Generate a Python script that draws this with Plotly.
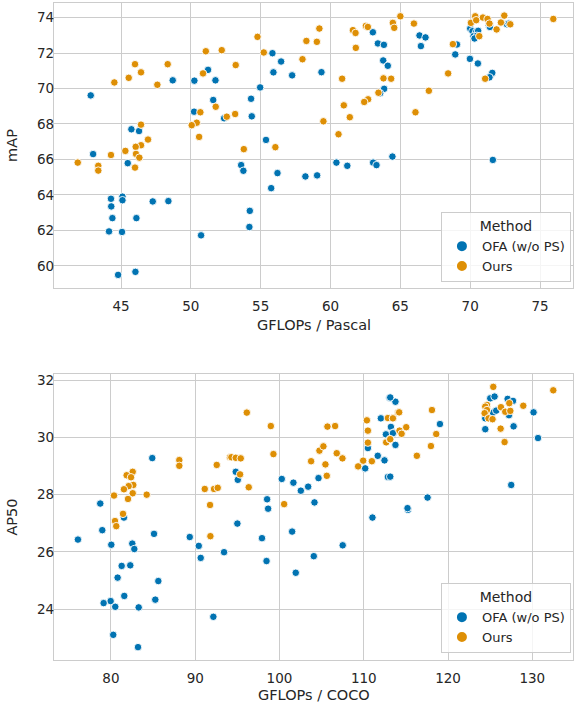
import plotly.graph_objects as go

# ---------------- Data: top panel (Pascal) ----------------
pascal_ofa_x = [42.83, 43.0, 45.74, 46.29, 48.70, 50.25, 51.23, 51.76, 51.6, 50.23, 52.38,
                45.48, 44.28, 45.1, 45.1, 44.3, 44.38, 46.1, 47.27, 48.39, 44.14, 45.07, 50.73,
                44.79, 46.03,
                63.03, 63.39, 63.82, 63.77, 64.1, 63.84, 63.55, 64.43,
                55.84, 56.46, 55.91, 57.25, 59.35, 54.96, 54.31, 54.36, 55.38,
                53.6, 53.76, 56.2, 55.75, 58.2, 59.04, 60.42, 61.2, 63.05, 63.29, 54.22, 54.19,
                66.37, 66.8, 66.47, 69.05, 68.93, 69.98, 70.55, 71.58, 71.38, 71.62,
                70.0, 70.16, 70.43, 70.57, 70.24, 70.48, 70.31, 71.34, 71.41, 72.63, 72.77]
pascal_ofa_y = [69.61, 66.3, 67.70, 67.6, 70.46, 70.44, 71.05, 70.46, 69.35, 68.69, 68.32,
                65.79, 63.78, 63.9, 63.7, 63.35, 62.69, 62.69, 63.63, 63.65, 61.94, 61.91, 61.72,
                59.49, 59.66,
                73.17, 72.54, 72.46, 71.58, 71.28, 69.98, 69.73, 66.16,
                71.99, 71.52, 70.91, 70.74, 70.92, 70.06, 69.42, 68.43, 67.1,
                65.68, 65.36, 65.23, 64.38, 65.04, 65.1, 65.82, 65.64, 65.82, 65.68, 63.1, 62.19,
                72.99, 72.88, 72.39, 72.48, 71.92, 71.67, 71.41, 70.88, 70.63, 65.97,
                73.38, 73.23, 73.19, 73.25, 72.95, 72.97, 72.82, 73.55, 73.47, 73.62, 73.66]

pascal_ours_x = [51.07, 52.21, 46.0, 46.43, 45.55, 44.52, 48.34, 47.6, 50.87, 50.68, 51.78,
                 52.57, 50.42, 50.06, 50.59, 46.43, 46.93, 46.43, 46.05, 45.31, 46.07, 44.28,
                 46.31, 41.9, 43.37, 43.37, 46.0,
                 59.2, 58.27, 59.02, 54.77, 55.22, 53.21, 57.99, 53.17, 59.49, 53.79, 56.05,
                 61.6, 61.79, 62.53, 62.67, 64.46, 64.56, 65.0, 61.81, 60.83, 63.79, 64.34,
                 63.43, 62.69, 62.41, 60.95, 61.38, 60.57,
                 65.97, 68.76, 68.42, 67.04, 66.08, 71.07, 75.95,
                 70.36, 70.05, 70.43, 70.91, 71.24, 71.38, 70.65, 71.89, 72.2, 72.44, 72.87]
pascal_ours_y = [72.1, 72.16, 71.37, 70.91, 70.6, 70.34, 71.37, 70.21, 70.85, 68.66, 68.97,
                 68.41, 68.07, 67.93, 67.27, 67.96, 67.12, 66.8, 66.71, 66.48, 66.31, 66.25,
                 66.1, 65.82, 65.64, 65.37, 65.54,
                 73.38, 72.68, 72.63, 72.91, 72.03, 71.32, 71.65, 68.56, 68.15, 66.58, 66.69,
                 73.29, 73.13, 73.53, 73.47, 73.7, 73.42, 74.07, 72.29, 70.55, 70.57, 70.55,
                 69.76, 69.39, 69.24, 69.05, 68.38, 67.42,
                 73.66, 72.5, 70.85, 69.87, 68.66, 70.55, 73.92,
                 74.07, 73.7, 73.85, 74.0, 73.92, 73.66, 72.95, 73.33, 73.72, 74.11, 73.62]

# ---------------- Data: bottom panel (COCO) ----------------
coco_ofa_x = [84.9, 78.73, 81.54, 78.97, 76.08, 80.04, 82.53, 82.77, 85.11, 89.35, 90.42,
              90.65, 93.42, 81.27, 82.29, 80.79, 85.62, 81.58, 79.96, 79.13, 80.51, 83.29,
              85.26, 92.15, 80.27, 83.21,
              94.81, 95.05, 100.27, 101.65, 102.53, 103.4, 104.63, 98.53, 98.65, 104.15,
              95.0, 111.03, 110.17, 110.49, 111.66, 112.46, 112.86, 112.03, 113.06, 113.76,
              113.22, 112.63, 113.52, 113.76, 97.92, 98.46, 101.5, 101.93, 104.07, 107.5,
              115.24, 113.14, 113.46, 119.04, 113.14, 117.57, 115.19,
              125.01, 125.52, 127.07, 127.71, 127.23, 125.33, 125.72, 124.42, 124.42,
              127.78, 130.15, 130.68, 127.5]
coco_ofa_y = [29.28, 27.69, 27.2, 26.76, 26.43, 26.25, 26.29, 26.1, 26.63, 26.52, 26.21,
              25.79, 25.99, 25.51, 25.53, 25.1, 24.98, 24.46, 24.28, 24.21, 24.08, 24.06,
              24.33, 23.73, 23.1, 22.67,
              28.8, 28.52, 28.55, 28.42, 28.14, 28.28, 28.58, 27.84, 27.51, 27.73,
              26.99, 27.2, 28.92, 29.63, 29.36, 29.2, 28.62, 30.67, 31.39, 31.25,
              30.37, 30.11, 30.17, 29.74, 26.48, 25.68, 26.71, 25.27, 25.85, 26.23,
              27.47, 31.4, 30.15, 30.47, 28.63, 27.9, 27.53,
              31.37, 31.43, 31.35, 31.28, 30.78, 30.87, 30.94, 30.67, 30.29,
              30.39, 30.88, 29.98, 28.34]

coco_ours_x = [88.11, 88.11, 92.55, 94.13, 82.58, 81.86, 82.38, 82.65, 82.1, 81.54, 82.58,
               84.24, 80.36, 82.02, 81.43, 80.48, 80.63, 91.13, 92.23, 92.67, 91.76, 91.8,
               96.12, 98.97, 99.28, 94.29, 94.81, 95.4, 95.32, 96.35, 100.55, 105.69, 106.6,
               104.74, 105.21, 103.75, 105.45, 105.61, 106.79, 107.47, 109.33, 109.93,
               110.96, 110.37, 110.49, 110.49, 112.86, 113.49, 114.09, 114.24, 112.66, 113.1,
               118.09, 118.6, 117.97, 116.3, 114.2, 113.46, 115.04, 114.49, 113.14,
               125.37, 132.49, 128.93, 124.62, 124.42, 124.62, 124.34, 124.81, 125.28,
               126.28, 126.79, 127.27, 127.39, 126.24, 126.71]
coco_ours_y = [29.21, 29.01, 29.04, 29.31, 28.8, 28.68, 28.61, 28.34, 28.3, 28.19, 28.05,
               28.0, 27.97, 27.85, 27.33, 27.08, 26.9, 28.2, 28.2, 28.24, 27.64, 26.55,
               30.87, 30.4, 29.42, 29.31, 29.29, 29.27, 28.71, 28.26, 27.67, 30.38, 30.4,
               29.54, 29.69, 29.17, 29.06, 28.66, 29.45, 29.27, 28.99, 29.19,
               29.17, 30.6, 30.24, 29.82, 30.68, 30.67, 30.87, 30.24, 29.83, 29.94,
               30.96, 30.12, 29.7, 29.36, 30.88, 30.67, 30.36, 30.13, 29.94,
               31.77, 31.65, 31.11, 31.14, 31.08, 30.96, 30.85, 30.67, 30.64,
               31.06, 30.9, 31.2, 30.93, 30.31, 29.84]

method_names = ["OFA (w/o PS)", "Ours"]
colors = ["#0173b2", "#de8f05"]
x_titles = ["GFLOPs / Pascal", "GFLOPs / COCO"]
y_titles = ["mAP", "AP50"]

FONT = "DejaVu Sans"
TXT = "#262626"
GRID = "#cccccc"

fig = go.Figure()

def add(x, y, name, color, xa, ya, legend, show):
    fig.add_trace(go.Scatter(
        x=x, y=y, mode="markers", name=name, xaxis=xa, yaxis=ya,
        legend=legend, showlegend=show,
        marker=dict(color=color, size=7.5, line=dict(color="white", width=0.9)),
    ))

add(pascal_ofa_x, pascal_ofa_y, method_names[0], colors[0], "x", "y", "legend", True)
add(pascal_ours_x, pascal_ours_y, method_names[1], colors[1], "x", "y", "legend", True)
add(coco_ofa_x, coco_ofa_y, method_names[0], colors[0], "x2", "y2", "legend2", True)
add(coco_ours_x, coco_ours_y, method_names[1], colors[1], "x2", "y2", "legend2", True)

ax_common = dict(showgrid=True, gridcolor=GRID, gridwidth=1, showline=True, mirror=True,
                 linecolor=GRID, linewidth=1.3, zeroline=False, ticks="", ticklen=0,
                 automargin=False,
                 tickfont=dict(size=13.5, color=TXT, family=FONT))

H = 707
top_px, bot_px = 3, 47
plot_h = H - top_px - bot_px
def py(pix):  # pixel from top -> paper y
    return (H - bot_px - pix) / plot_h

legend_common = dict(xanchor="right", yanchor="bottom",
                     bgcolor="rgba(255,255,255,0.8)", bordercolor=GRID, borderwidth=1,
                     font=dict(size=13, color=TXT, family=FONT),
                     title=dict(text="Method", side="top center", font=dict(size=14, color=TXT)),
                     itemsizing="constant", itemwidth=30, tracegroupgap=0)

fig.update_layout(
    width=576, height=707,
    margin=dict(l=54, r=3, t=3, b=47, autoexpand=False),
    paper_bgcolor="white", plot_bgcolor="white",
    font=dict(family=FONT, color=TXT),
    xaxis=dict(**ax_common, domain=[0, 1], anchor="y", range=[40.2, 77.36],
               tickvals=[45, 50, 55, 60, 65, 70, 75], ticklabelstandoff=6),
    yaxis=dict(**ax_common, domain=[py(288), py(3)], anchor="x", range=[58.75, 74.82],
               tickvals=[60, 62, 64, 66, 68, 70, 72, 74], ticklabelstandoff=-4,
               title=dict(text=y_titles[0], font=dict(size=14.5, color=TXT))),
    xaxis2=dict(**ax_common, domain=[0, 1], anchor="y2", range=[73.24, 134.83],
                tickvals=[80, 90, 100, 110, 120, 130], ticklabelstandoff=6),
    yaxis2=dict(**ax_common, domain=[0, py(374)], anchor="x2", range=[22.22, 32.22],
                tickvals=[24, 26, 28, 30, 32], ticklabelstandoff=-4,
                title=dict(text=y_titles[1], font=dict(size=14.5, color=TXT))),
    legend=dict(x=0.996, y=py(282), **legend_common),
    legend2=dict(x=0.996, y=py(653), **legend_common),
    annotations=[
        dict(text=x_titles[0], x=0.5, y=py(325), xref="paper", yref="paper",
             xanchor="center", yanchor="middle", showarrow=False,
             font=dict(size=14.5, color=TXT, family=FONT)),
        dict(text=x_titles[1], x=0.5, y=py(695), xref="paper", yref="paper",
             xanchor="center", yanchor="middle", showarrow=False,
             font=dict(size=14.5, color=TXT, family=FONT)),
    ],
)

fig.write_html("out.html", config={"displayModeBar": False},
               post_script="document.body.style.margin='0';")
